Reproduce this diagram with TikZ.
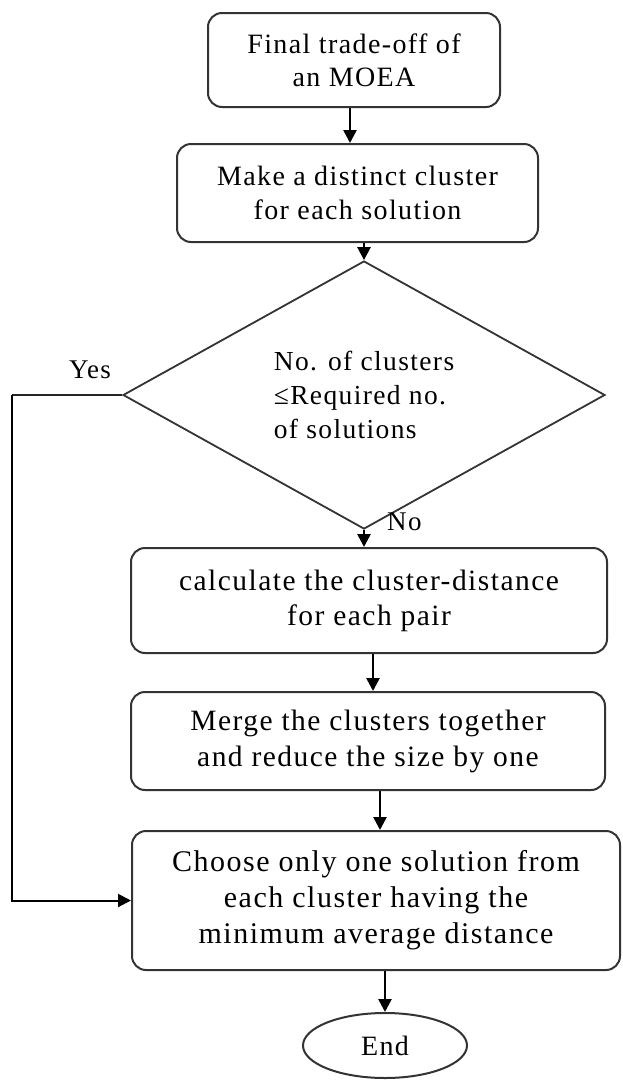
\documentclass[tikz,border=0pt]{standalone}
\usepackage{fontspec}
\usetikzlibrary{shapes.geometric,arrows.meta}
\newfontfamily\lsf{Liberation Serif}[LetterSpace=5]
\begin{document}
\begin{tikzpicture}[x=1pt,y=-1pt,
  box/.style={draw=black!80,line width=2pt,rounded corners=14pt,align=center,inner sep=0pt},
  conn/.style={line width=2.6pt,-{Triangle[length=13pt,width=13pt]}},
  lbl/.style={inner sep=0pt}]
\useasboundingbox (0,0) rectangle (623,1080);
\node[box,minimum width=292pt,minimum height=94pt,font=\lsf\fontsize{28}{33}\selectfont] (b1) at (354,60) {Final trade-off of\\an MOEA};
\node[box,minimum width=361pt,minimum height=98pt,font=\lsf\fontsize{28}{34}\selectfont] (b2) at (357.5,193) {Make a distinct cluster\\for each solution};
\node[draw=black!80,line width=1.8pt,shape=diamond,minimum width=482pt,minimum height=225pt,inner sep=0pt,align=left,font=\lsf\fontsize{27.5}{34}\selectfont] (d) at (364,395) {No. of clusters\\≤Required no.\\of solutions};
\node[box,minimum width=476pt,minimum height=105pt,font=\lsf\fontsize{29.5}{35}\selectfont] (b3) at (369,600.5) {calculate the cluster-distance\\for each pair};
\node[box,minimum width=474pt,minimum height=98pt,font=\lsf\fontsize{29.5}{36}\selectfont] (b4) at (368,741) {Merge the clusters together\\and reduce the size by one};
\node[box,minimum width=488pt,minimum height=139pt,font=\lsf\fontsize{30}{36}\selectfont] (b5) at (376,900.5) {Choose only one solution from\\each cluster having the\\minimum average distance};
\node[draw=black!80,line width=2pt,shape=ellipse,minimum width=164pt,minimum height=65pt,inner sep=0pt,font=\lsf\fontsize{28}{32}\selectfont] (e) at (385,1045.5) {End};
\node[lbl,font=\lsf\fontsize{27}{32}\selectfont] (yes) at (90,370) {Yes};
\node[lbl,anchor=west,font=\lsf\fontsize{27}{32}\selectfont] (no) at (387,522) {No};
\path (d.west) ++(-110,0) coordinate (cl);
\draw[conn] ([xshift=-4pt]b1.south) -- ([xshift=-4pt]b1.south |- b2.north);
\draw[conn] (b2.south -| d.north) -- (d.north);
\draw[conn] (d.south) -- (d.south |- b3.north);
\draw[conn] ([xshift=4pt]b3.south) -- ([xshift=4pt]b3.south |- b4.north);
\draw[conn] ([xshift=12pt]b4.south) -- ([xshift=12pt]b4.south |- b5.north);
\draw[conn] (b5.south -| e.north) -- (e.north);
\draw[line width=2pt,black!85] (d.west) -- (cl);
\draw[conn,line width=2pt] (cl) |- (b5.west);
\end{tikzpicture}
\end{document}
